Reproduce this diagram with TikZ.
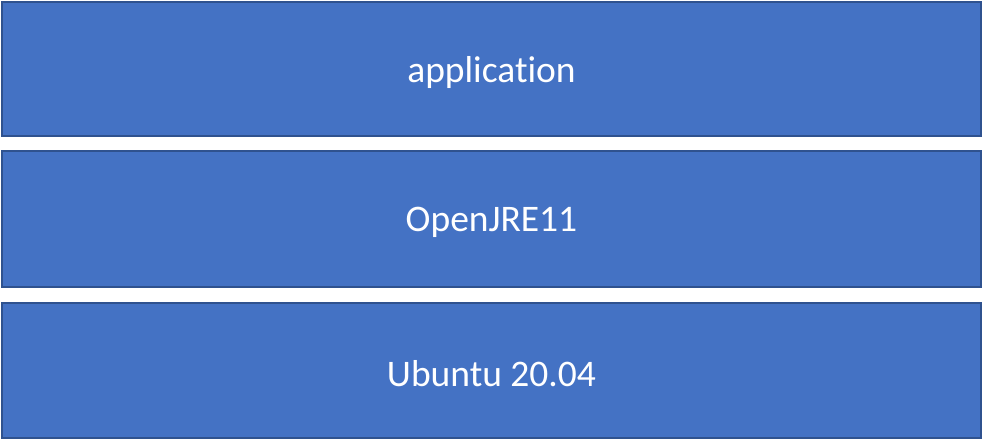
\documentclass[tikz,border=0pt]{standalone}
\usepackage{fontspec}
\setmainfont{Carlito}[Ligatures={NoCommon}]
\definecolor{boxfill}{HTML}{4472C4}
\definecolor{boxline}{HTML}{2F528F}
\begin{document}
\begin{tikzpicture}[x=1pt,y=-1pt,
  layer/.style={draw=boxline,line width=1.3pt,fill=boxfill},
  label/.style={text=white,font=\fontsize{37.5}{40}\selectfont}]
\useasboundingbox (0,0) rectangle (983,441);
\fill[white] (0,0) rectangle (983,441);
\draw[layer] (2,2) rectangle (981,136);
\draw[layer] (2,151) rectangle (981,287);
\draw[layer] (2,303) rectangle (981,438);
\node[label] (app) at (491.5,72.5) {application};
\node[label] (jre) at (491.5,222.5) {OpenJRE11};
\node[label] (os) at (491.5,373.5) {Ubuntu 20.04};
\end{tikzpicture}
\end{document}
